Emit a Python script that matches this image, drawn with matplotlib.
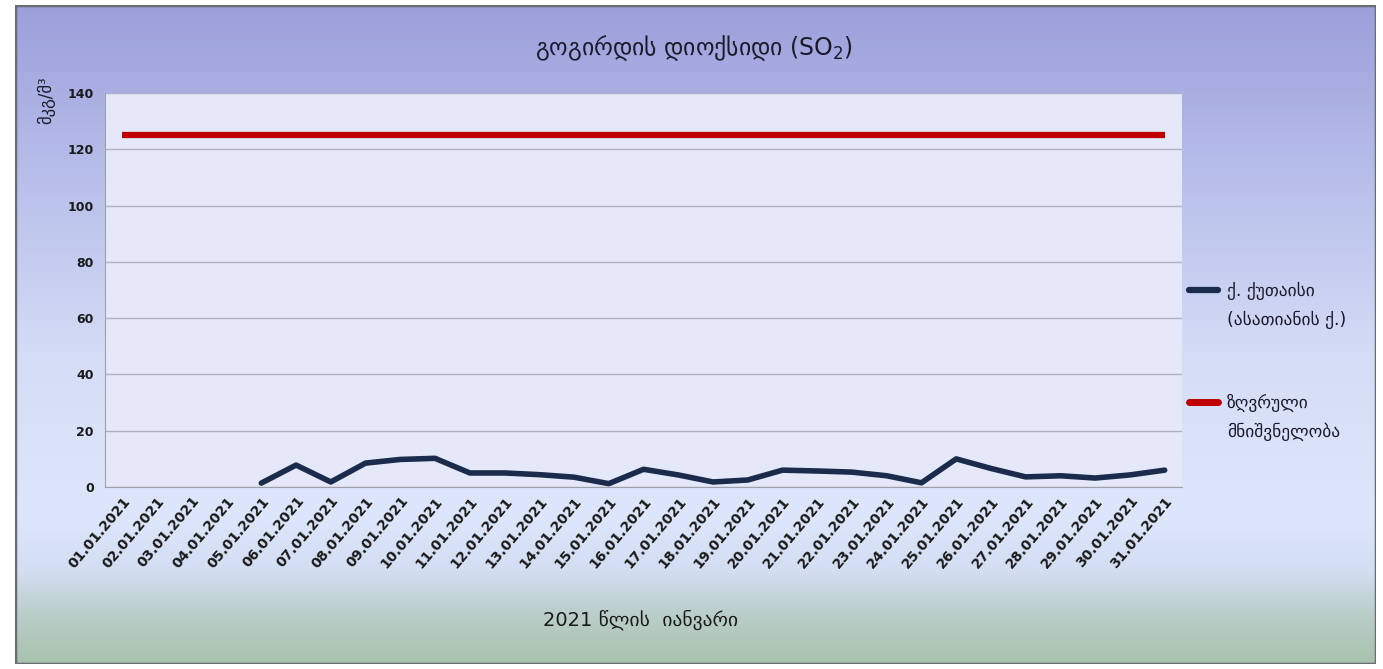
import numpy as np
import matplotlib
matplotlib.use("Agg")
import matplotlib.pyplot as plt
from matplotlib.colors import LinearSegmentedColormap
from matplotlib.patches import Rectangle
from matplotlib.lines import Line2D

# data
dates = ["%02d.01.2021" % d for d in range(1, 32)]
kutaisi = [np.nan, np.nan, np.nan, np.nan, 1.4, 7.8, 1.8, 8.5, 9.8, 10.2,
           5.0, 5.0, 4.4, 3.5, 1.2, 6.3, 4.3, 1.8, 2.5, 6.0,
           5.7, 5.3, 4.0, 1.5, 10.0, 6.6, 3.6, 4.0, 3.2, 4.3, 6.0]
limit = [125] * 31

title = "გოგირდის დიოქსიდი (SO$_2$)"
ylabel = "მკგ/მ³"
xlabel = "2021 წლის  იანვარი"
label_city = "ქ. ქუთაისი\n(ასათიანის ქ.)"
label_limit = "ზღვრული\nმნიშვნელობა"

plt.rcParams['font.family'] = ['DejaVu Sans']

fig = plt.figure(figsize=(13.83, 6.69), dpi=100)
fig.patch.set_facecolor("white")

# gradient background of the chart frame
bg = fig.add_axes([0.0108, 0.0075, 0.984, 0.985])
bg.set_axis_off()
cmap = LinearSegmentedColormap.from_list("bg", [
    (0.0, "#a8c2ad"), (0.08, "#bccfcc"), (0.14, "#d3def2"), (0.22, "#dde6fa"),
    (0.45, "#d6def7"), (0.7, "#bcc3ec"), (1.0, "#9c9fdb")])
grad = np.linspace(0, 1, 256).reshape(-1, 1)
bg.imshow(grad, aspect="auto", cmap=cmap, origin="lower", extent=[0, 1, 0, 1])
bg.add_patch(Rectangle((0, 0), 1, 1, fill=False, edgecolor="#6b6b73", lw=2.5,
                       transform=bg.transAxes))
bg.set_xlim(0, 1)
bg.set_ylim(0, 1)

ax = fig.add_axes([0.0759, 0.272, 0.7788, 0.589])
ax.set_facecolor("#e4e8f8")
x = np.arange(len(dates))
l1, = ax.plot(x, kutaisi, color="#1b2b4b", lw=4, solid_capstyle="round",
              solid_joinstyle="round")
l2, = ax.plot(x, limit, color="#c00000", lw=4.5, solid_capstyle="butt")

ax.set_xlim(-0.5, len(dates) - 0.5)
ax.set_ylim(0, 140)
ax.set_yticks(range(0, 141, 20))
ax.yaxis.grid(True, color="#aeb1c6", lw=1)
ax.set_axisbelow(True)
ax.set_xticks(x)
ax.set_xticklabels(dates, rotation=50, ha="right", rotation_mode="anchor",
                   fontsize=10, fontweight="bold", color="#1a1a1a")
for t in ax.get_yticklabels():
    t.set_fontsize(9)
    t.set_fontweight("bold")
    t.set_color("#1a1a1a")
ax.tick_params(axis="both", length=0, pad=8)
ax.tick_params(axis="x", pad=5)
for s in ["top", "right"]:
    ax.spines[s].set_visible(False)
for s in ["left", "bottom"]:
    ax.spines[s].set_color("#a0a0a8")

fig.text(0.502, 0.928, title, ha="center", va="center", fontsize=17,
         color="#1a1a2a")
fig.text(0.033, 0.85, ylabel, rotation=90, ha="center", va="center",
         fontsize=12, color="#1a1a2a")
fig.text(0.463, 0.073, xlabel, ha="center", va="center", fontsize=14,
         color="#1a1a1a")

# legend drawn by hand so the swatch sits on the first text line
entries = [(l1, label_city, 0.567), (l2, label_limit, 0.399)]
for line, lab, yy in entries:
    fig.add_artist(Line2D([0.860, 0.881], [yy, yy], transform=fig.transFigure,
                          color=line.get_color(), lw=line.get_linewidth() + 0.5,
                          solid_capstyle="round"))
    fig.text(0.887, yy + 0.012, lab, ha="left", va="top", fontsize=12.5,
             linespacing=1.75, color="#1a1a2a")

fig.savefig("out.png", dpi=100)
